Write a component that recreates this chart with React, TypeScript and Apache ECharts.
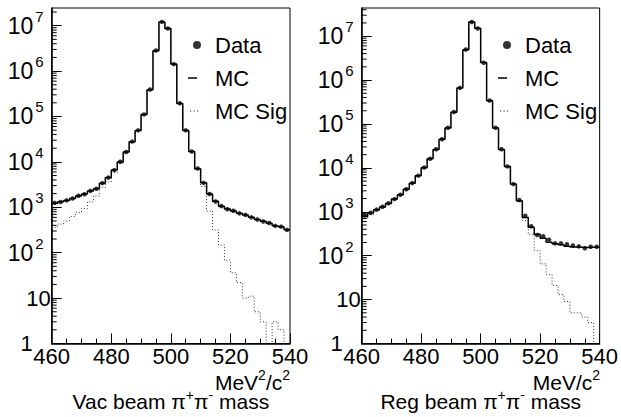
import React, { useEffect, useRef } from 'react';
import * as echarts from 'echarts';

// ---------- data ----------
const binLow = [460, 462, 464, 466, 468, 470, 472, 474, 476, 478, 480, 482, 484, 486, 488, 490, 492, 494, 496, 498,
  500, 502, 504, 506, 508, 510, 512, 514, 516, 518, 520, 522, 524, 526, 528, 530, 532, 534, 536, 538];
const BIN_WIDTH = 2;
const X_MIN = 460;
const X_MAX = 540;
const xTickStep = 20;

const vacData = [1250, 1310, 1420, 1560, 1790, 1940, 2300, 2560, 3400, 4500, 6600, 10100, 16500, 28000, 49500, 111000,
  392000, 2830000, 12100000, 8650000, 1420000, 195000, 49500, 16900, 7150, 3450, 1960, 1340, 1060, 905, 840, 735, 680,
  600, 540, 486, 450, 390, 375, 318];
const vacMC = [1230, 1320, 1410, 1570, 1780, 1950, 2290, 2570, 3390, 4520, 6610, 10000, 16600, 27900, 49000, 110000,
  389000, 2820000, 12000000, 8710000, 1430000, 193000, 49000, 17000, 7080, 3470, 1950, 1350, 1050, 912, 832, 741, 676,
  603, 537, 490, 447, 394, 372, 320];
const vacMCSig = [363, 427, 501, 631, 776, 944, 1320, 1780, 2750, 3630, 5820, 9330, 16200, 27500, 48800, 109500, 388000,
  2815000, 11990000, 8700000, 1428000, 192500, 48800, 16800, 6900, 2880, 832, 316, 148, 68, 36, 22, 10, 11, 5, 3, 0, 3,
  2, 0];

const regData = [830, 950, 1120, 1300, 1560, 1940, 2450, 3250, 4500, 6650, 10200, 16100, 26500, 45000, 82000, 187000,
  665000, 4950000, 21000000, 15000000, 2480000, 342000, 82000, 26500, 10800, 4270, 1860, 813, 468, 295, 277, 232, 191,
  191, 182, 170, 163, 148, 160, 160];
const regMC = [785, 933, 1110, 1290, 1550, 1950, 2430, 3270, 4470, 6610, 10100, 16200, 26300, 44700, 81300, 186000,
  661000, 4900000, 20900000, 15100000, 2510000, 339000, 81300, 26300, 10700, 4270, 1780, 741, 442, 309, 251, 202, 186,
  178, 164, 158, 156, 154, 155, 156];
const regMCSig = [708, 851, 1050, 1260, 1540, 1940, 2420, 3260, 4460, 6600, 10050, 16150, 26250, 44650, 81250, 185900,
  660800, 4899000, 20890000, 15090000, 2509000, 338800, 81200, 26200, 10600, 4200, 1700, 631, 309, 130, 65, 37, 21, 13,
  9, 5, 5, 4, 3, 0];

const vacYMax = 2.45e7;
const regYMax = 4.38e7;
const legendNames = ['Data', 'MC', 'MC Sig'];

// ---------- helpers ----------
const FONT = '"Liberation Sans", Arial, Helvetica, sans-serif';
const EMPTY_FLOOR = 0.1; // empty bins drawn below the log axis floor

const ICON_DATA = 'path://M0,0L0.01,0L0,0.01Z M14,14L13.99,14L14,13.99Z M14,7A4,4 0 1 1 6,7A4,4 0 1 1 14,7Z';
const ICON_MC = 'path://M0,0L0.01,0L0,0.01Z M14,14L13.99,14L14,13.99Z M1,6.2H10V7.8H1Z';
const ICON_SIG = 'path://M0,0L0.01,0L0,0.01Z M14,14L13.99,14L14,13.99Z M3,6.4h1.2v1.2h-1.2Z M6.5,6.4h1.2v1.2h-1.2Z M10,6.4h1.2v1.2h-1.2Z';

function stepPoints(vals: number[]) {
  const pts = binLow.map((x, i) => [x, vals[i] > 0 ? vals[i] : EMPTY_FLOOR]);
  const last = vals[vals.length - 1];
  pts.push([X_MAX, last > 0 ? last : EMPTY_FLOOR]);
  return pts;
}
function centerPoints(vals: number[]) {
  return binLow.map((x, i) => [x + BIN_WIDTH / 2, vals[i]]);
}
function minorTickValues(max: number) {
  const out: number[] = [];
  for (let k = 0; k < 9; k++) {
    for (let m = 2; m <= 9; m++) {
      const v = m * Math.pow(10, k);
      if (v < max) out.push(v);
    }
  }
  return out;
}
function yLabel(v: number) {
  const k = Math.round(Math.log10(v));
  if (Math.abs(v - Math.pow(10, k)) > 1e-6 * v) return '';
  if (k === 0) return '{one|1}';
  if (k === 1) return '{ten|10}';
  return `{b|10}{e|${k}}`;
}

const yRich = {
  one: { fontSize: 22, fontFamily: FONT, color: '#000', padding: [0, 18, 0, 0] },
  ten: { fontSize: 22, fontFamily: FONT, color: '#000' },
  b: { fontSize: 23, fontFamily: FONT, color: '#000', lineHeight: 34 },
  e: { fontSize: 15, fontFamily: FONT, color: '#000', lineHeight: 15, verticalAlign: 'top', padding: [0, 7, 0, 2] },
};
const nameRich = {
  t: { fontSize: 21, fontFamily: FONT, color: '#000', lineHeight: 28 },
  s: { fontSize: 14, fontFamily: FONT, color: '#000', lineHeight: 14, verticalAlign: 'top' },
};
const graphicRich = {
  t: { fontSize: 21, fontFamily: FONT, fill: '#000', lineHeight: 28 },
  s: { fontSize: 14, fontFamily: FONT, fill: '#000', lineHeight: 14, verticalAlign: 'top' },
};

function buildPanel(i: number, left: number, yMax: number, dataV: number[], mc: number[], sig: number[],
  title: string, unit: string, legendLeft: number) {
  const grid = { left, top: 8, width: 238.3, height: 337, show: true, borderColor: '#000', borderWidth: 1, backgroundColor: 'transparent' };
  const xAxis = {
    gridIndex: i, type: 'value', min: X_MIN, max: X_MAX, interval: xTickStep,
    axisLine: { show: true, onZero: false, lineStyle: { color: '#000', width: 1.5 } },
    axisTick: { show: true, inside: true, length: 10, lineStyle: { color: '#000', width: 1 } },
    minorTick: { show: true, splitNumber: 4, length: 5, lineStyle: { color: '#000', width: 1 } },
    splitLine: { show: false },
    axisLabel: { margin: 2, fontSize: 22, color: '#000', fontFamily: FONT },
    name: title, nameLocation: 'middle', nameGap: 44,
    nameTextStyle: { fontFamily: FONT, color: '#000', rich: nameRich },
  };
  const yAxis = {
    gridIndex: i, type: 'log', logBase: 10, min: 1, max: yMax, splitNumber: 8,
    axisLine: { show: true, lineStyle: { color: '#000', width: 1.5 } },
    axisTick: { show: true, inside: true, length: 10, lineStyle: { color: '#000', width: 1 } },
    minorTick: { show: false },
    splitLine: { show: false },
    axisLabel: { margin: 1, formatter: yLabel, rich: yRich, fontSize: 22, color: '#000', fontFamily: FONT, showMaxLabel: false },
  };
  const series = [
    {
      type: 'custom', xAxisIndex: i, yAxisIndex: i, silent: true, z: 5,
      data: minorTickValues(yMax).map((v) => [X_MIN, v]),
      renderItem: (_p: any, api: any) => {
        const pt = api.coord([api.value(0), api.value(1)]);
        return { type: 'line', shape: { x1: pt[0], y1: pt[1], x2: pt[0] + 5, y2: pt[1] }, style: { stroke: '#000', lineWidth: 1 } };
      },
    },
    {
      name: 'MC Sig', type: 'line', xAxisIndex: i, yAxisIndex: i, step: 'end', showSymbol: false, symbol: 'none',
      data: stepPoints(sig), color: '#333',
      lineStyle: { color: '#333', width: 1, type: [1, 2] }, z: 2,
    },
    {
      name: 'MC', type: 'line', xAxisIndex: i, yAxisIndex: i, step: 'end', showSymbol: false, symbol: 'none',
      data: stepPoints(mc), color: '#000',
      lineStyle: { color: '#000', width: 1.5 }, z: 3,
    },
    {
      name: 'Data', type: 'scatter', xAxisIndex: i, yAxisIndex: i, symbol: 'circle', symbolSize: 4.5,
      data: centerPoints(dataV), itemStyle: { color: '#000' }, z: 4,
    },
  ];
  const legend = {
    left: legendLeft, top: 28, orient: 'vertical', itemWidth: 14, itemHeight: 14, itemGap: 9,
    selectedMode: false,
    itemStyle: { borderWidth: 0 },
    textStyle: { fontSize: 22, fontFamily: FONT, color: '#000', lineHeight: 24, padding: [0, 0, 0, 9] },
    data: [
      { name: legendNames[0], icon: ICON_DATA },
      { name: legendNames[1], icon: ICON_MC },
      { name: legendNames[2], icon: ICON_SIG },
    ],
  };
  const graphic = {
    type: 'text', x: left + 238.3, y: 382,
    style: { text: unit, rich: graphicRich, align: 'right', verticalAlign: 'middle', fill: '#000', fontFamily: FONT, fontSize: 21 },
  };
  return { grid, xAxis, yAxis, series, legend, graphic };
}

export default function App() {
  const ref = useRef<HTMLDivElement>(null);
  useEffect(() => {
    if (!ref.current) return;
    const chart = echarts.init(ref.current, undefined, { renderer: 'svg' });
    const p0 = buildPanel(0, 51.7, vacYMax, vacData, vacMC, vacMCSig,
      '{t|Vac beam π}{s|+}{t|π}{s|-}{t| mass}', '{t|MeV}{s|2}{t|/c}{s|2}', 182);
    const p1 = buildPanel(1, 361.7, regYMax, regData, regMC, regMCSig,
      '{t|Reg beam π}{s|+}{t|π}{s|-}{t| mass}', '{t|MeV/c}{s|2}', 492);
    chart.setOption({
      animation: false,
      backgroundColor: '#fff',
      textStyle: { fontFamily: FONT },
      grid: [p0.grid, p1.grid],
      xAxis: [p0.xAxis, p1.xAxis],
      yAxis: [p0.yAxis, p1.yAxis],
      legend: [p0.legend, p1.legend],
      graphic: [p0.graphic, p1.graphic],
      series: [...p0.series, ...p1.series],
    } as any);
    return () => chart.dispose();
  }, []);
  return <div ref={ref} style={{ position: 'fixed', left: 0, top: 0, width: 621, height: 417 }} />;
}
